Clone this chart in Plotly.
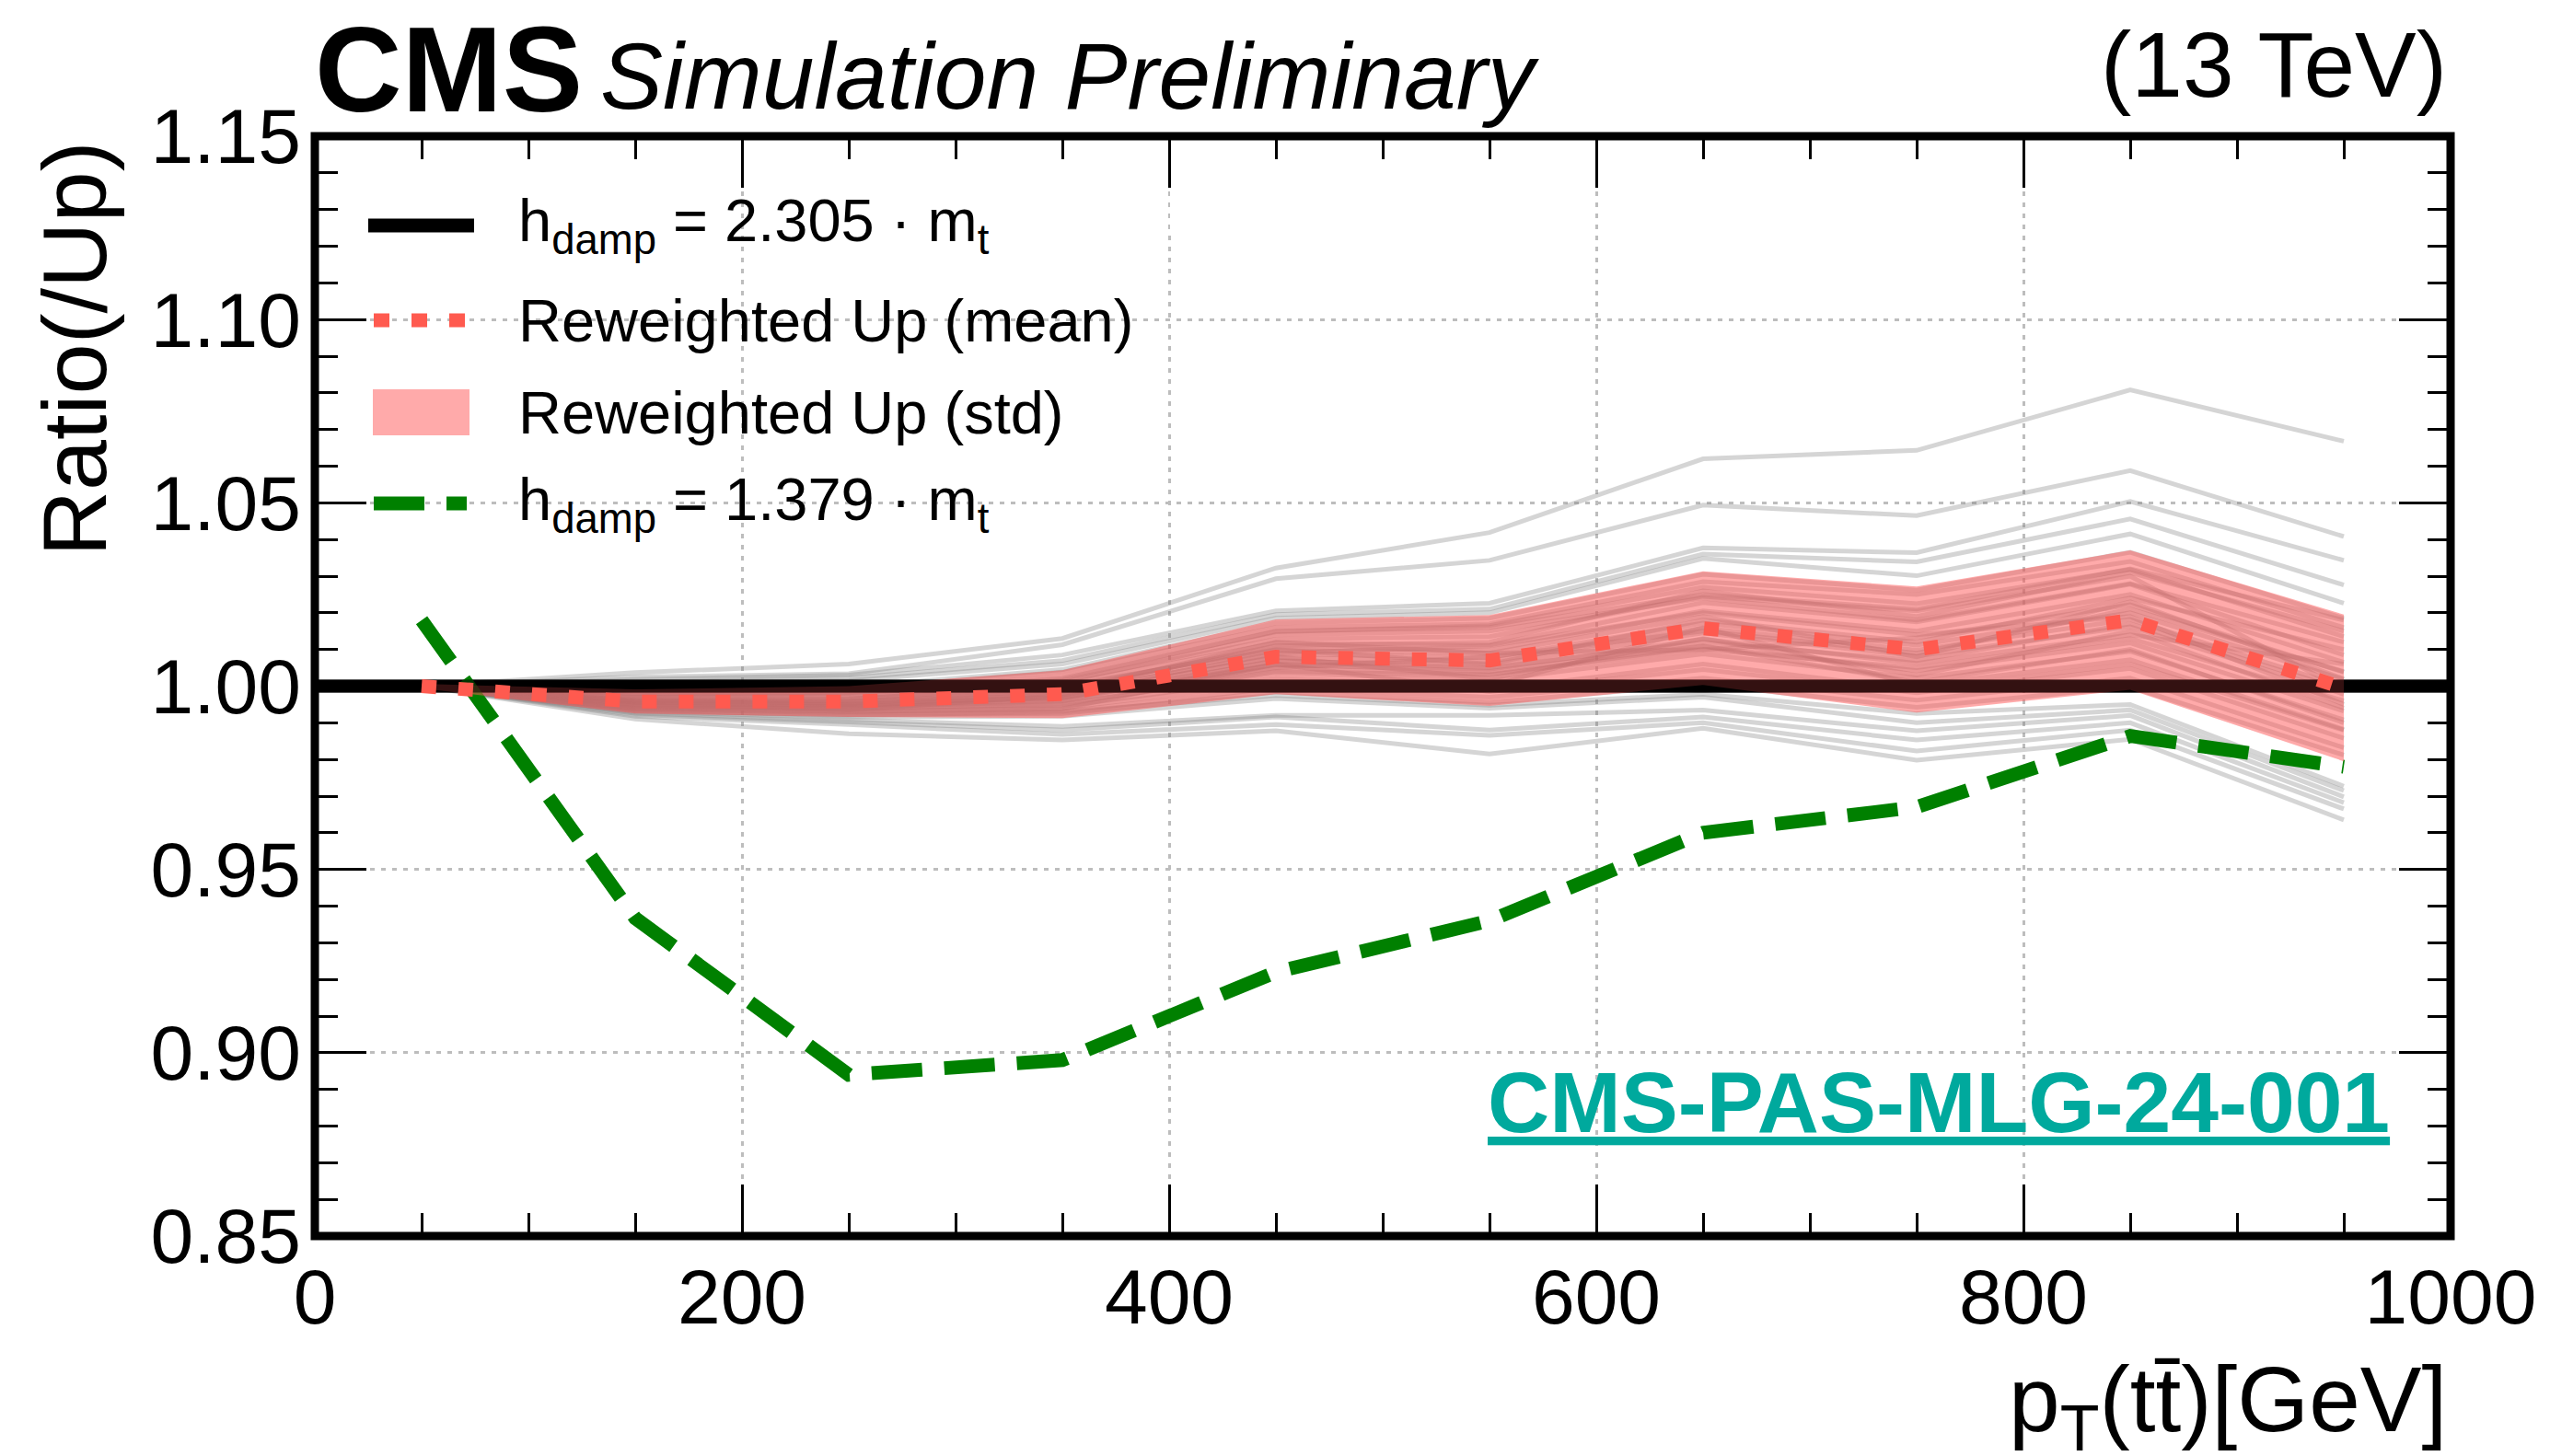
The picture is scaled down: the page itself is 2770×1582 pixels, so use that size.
import plotly.graph_objects as go

# ---------------- data ----------------
pt_bins = [50, 150, 250, 350, 450, 550, 650, 750, 850, 950]
nominal_x = [0, 1000]
nominal_ratio = [1.0, 1.0]
hdamp_down_ratio = [1.018, 0.9367, 0.894, 0.898, 0.922, 0.936, 0.960, 0.967, 0.9864, 0.978]
reweighted_mean = [1.000, 0.9958, 0.9958, 0.9978, 1.008, 1.007, 1.0158, 1.010, 1.018, 0.9995]
reweighted_std = [0.0006, 0.0033, 0.0042, 0.0065, 0.0102, 0.0124, 0.0155, 0.0172, 0.019, 0.020]

reweighted_toys = [
    [1.0000, 1.0037, 1.0060, 1.0130, 1.0322, 1.0419, 1.0620, 1.0643, 1.0808, 1.0668],
    [1.0000, 1.0025, 1.0034, 1.0113, 1.0293, 1.0343, 1.0494, 1.0465, 1.0588, 1.0408],
    [1.0000, 1.0018, 1.0030, 1.0085, 1.0205, 1.0226, 1.0377, 1.0364, 1.0504, 1.0343],
    [1.0000, 1.0012, 1.0022, 1.0070, 1.0195, 1.0210, 1.0360, 1.0339, 1.0456, 1.0276],
    [1.0000, 1.0008, 1.0015, 1.0060, 1.0185, 1.0200, 1.0348, 1.0301, 1.0415, 1.0226],
    [1.0003, 0.9990, 0.9998, 1.0045, 1.0172, 1.0185, 1.0305, 1.0262, 1.0365, 1.0185],
    [1.0002, 0.9984, 0.9992, 1.0038, 1.0160, 1.0170, 1.0285, 1.0250, 1.0340, 1.0160],
    [1.0002, 0.9978, 0.9985, 1.0025, 1.0148, 1.0165, 1.0270, 1.0225, 1.0318, 1.0135],
    [1.0001, 0.9973, 0.9979, 1.0015, 1.0128, 1.0135, 1.0245, 1.0205, 1.0300, 0.9990],
    [1.0001, 0.9969, 0.9973, 1.0005, 1.0118, 1.0112, 1.0228, 1.0175, 1.0278, 1.0085],
    [1.0000, 0.9965, 0.9966, 0.9996, 1.0105, 1.0098, 1.0205, 1.0150, 1.0250, 1.0065],
    [1.0000, 0.9962, 0.9962, 0.9988, 1.0098, 1.0090, 1.0100, 1.0132, 1.0222, 1.0038],
    [1.0000, 0.9959, 0.9959, 0.9982, 1.0088, 1.0078, 1.0172, 1.0112, 1.0200, 1.0018],
    [1.0000, 0.9957, 0.9955, 0.9976, 1.0078, 1.0068, 1.0158, 1.0098, 1.0182, 0.9998],
    [1.0000, 0.9955, 0.9951, 0.9970, 1.0068, 1.0058, 1.0145, 1.0082, 1.0162, 0.9978],
    [1.0000, 0.9952, 0.9947, 0.9964, 1.0058, 1.0046, 1.0128, 1.0062, 1.0140, 1.0060],
    [0.9999, 0.9950, 0.9943, 0.9958, 1.0048, 1.0032, 1.0108, 1.0042, 1.0118, 0.9932],
    [0.9999, 0.9947, 0.9939, 0.9952, 1.0036, 1.0016, 1.0088, 1.0022, 1.0095, 0.9908],
    [0.9999, 0.9944, 0.9935, 0.9945, 1.0022, 1.0000, 1.0160, 1.0002, 1.0072, 0.9882],
    [0.9998, 0.9940, 0.9931, 0.9938, 1.0060, 0.9985, 1.0045, 0.9982, 1.0048, 0.9858],
    [0.9998, 0.9936, 0.9927, 0.9931, 0.9995, 0.9970, 1.0022, 0.9962, 1.0022, 0.9832],
    [0.9998, 0.9932, 0.9922, 0.9925, 0.9984, 0.9956, 1.0005, 0.9942, 0.9998, 0.9812],
    [1.0000, 0.9935, 0.9920, 0.9930, 0.9975, 0.9948, 0.9978, 0.9925, 0.9950, 0.9727],
    [1.0000, 0.9930, 0.9915, 0.9918, 0.9966, 0.9940, 0.9970, 0.9900, 0.9935, 0.9715],
    [1.0000, 0.9926, 0.9908, 0.9890, 0.9920, 0.9920, 0.9935, 0.9878, 0.9920, 0.9698],
    [1.0000, 0.9922, 0.9902, 0.9880, 0.9916, 0.9880, 0.9916, 0.9853, 0.9900, 0.9682],
    [1.0000, 0.9918, 0.9895, 0.9868, 0.9895, 0.9866, 0.9900, 0.9823, 0.9880, 0.9665],
    [1.0000, 0.9910, 0.9870, 0.9853, 0.9878, 0.9815, 0.9885, 0.9798, 0.9855, 0.9635],
    [1.0001, 0.9980, 0.9990, 1.0010, 1.0140, 1.0150, 1.0240, 1.0180, 1.0280, 1.0120],
    [1.0000, 0.9970, 0.9975, 0.9990, 1.0110, 1.0120, 1.0260, 1.0190, 1.0310, 1.0150],
    [1.0000, 0.9960, 0.9965, 1.0000, 1.0100, 1.0060, 1.0180, 1.0120, 1.0240, 1.0100],
    [1.0000, 0.9955, 0.9960, 0.9980, 1.0090, 1.0110, 1.0200, 1.0140, 1.0190, 0.9950],
    [1.0000, 0.9950, 0.9950, 0.9970, 1.0050, 1.0080, 1.0150, 1.0090, 1.0210, 1.0040],
    [0.9999, 0.9945, 0.9945, 0.9960, 1.0070, 1.0050, 1.0120, 1.0070, 1.0170, 0.9990],
    [0.9999, 0.9940, 0.9940, 0.9950, 1.0040, 1.0030, 1.0100, 1.0050, 1.0130, 0.9960],
    [0.9999, 0.9948, 0.9935, 0.9975, 1.0080, 1.0020, 1.0130, 1.0030, 1.0150, 0.9940],
    [1.0000, 0.9962, 0.9952, 0.9985, 1.0120, 1.0090, 1.0190, 1.0080, 1.0230, 1.0020],
    [1.0000, 0.9958, 0.9948, 0.9968, 1.0060, 1.0040, 1.0110, 1.0010, 1.0100, 0.9900],
    [1.0001, 0.9975, 0.9982, 1.0020, 1.0150, 1.0160, 1.0250, 1.0210, 1.0320, 1.0180],
    [0.9998, 0.9938, 0.9930, 0.9940, 1.0010, 0.9990, 1.0060, 0.9990, 1.0060, 0.9880],
]

x_ticks = [0, 200, 400, 600, 800, 1000]
y_ticks = [0.85, 0.90, 0.95, 1.00, 1.05, 1.10, 1.15]

legend_labels = [
    "h<sub>damp</sub> = 2.305 · m<sub>t</sub>",
    "Reweighted Up (mean)",
    "Reweighted Up (std)",
    "h<sub>damp</sub> = 1.379 · m<sub>t</sub>",
]

# ---------------- layout geometry ----------------
W, H = 2770, 1582
L, R, T, B = 342, 108, 148, 239
PW = W - L - R
PH = H - T - B


def px(xp):
    return (xp - L) / PW


def py(yp):
    return (H - B - yp) / PH


FONT = "Liberation Sans, Arial, Helvetica, sans-serif"
RED = "#FF5A4F"
GREEN = "#008000"
BAND = "rgba(255,85,85,0.5)"
TOY = "rgba(128,128,128,0.33)"

fig = go.Figure()

for toy in reweighted_toys:
    fig.add_trace(go.Scatter(x=pt_bins, y=toy, mode="lines",
                             line=dict(color=TOY, width=5), showlegend=False, hoverinfo="skip"))

fig.add_trace(go.Scatter(x=nominal_x, y=nominal_ratio, mode="lines",
                         line=dict(color="black", width=14), showlegend=False))

fig.add_trace(go.Scatter(x=pt_bins, y=hdamp_down_ratio, mode="lines",
                         line=dict(color=GREEN, width=15, dash="55px,24px"), showlegend=False))

band_hi = [m + s for m, s in zip(reweighted_mean, reweighted_std)]
band_lo = [m - s for m, s in zip(reweighted_mean, reweighted_std)]
fig.add_trace(go.Scatter(x=pt_bins, y=band_hi, mode="lines", line=dict(width=0),
                         showlegend=False, hoverinfo="skip"))
fig.add_trace(go.Scatter(x=pt_bins, y=band_lo, mode="lines", line=dict(width=0),
                         fill="tonexty", fillcolor=BAND, showlegend=False))

fig.add_trace(go.Scatter(x=nominal_x, y=nominal_ratio, mode="lines",
                         line=dict(color="rgba(0,0,0,0.6)", width=14), showlegend=False,
                         hoverinfo="skip"))

fig.add_trace(go.Scatter(x=pt_bins, y=reweighted_mean, mode="lines",
                         line=dict(color=RED, width=15, dash="16px,24px"), showlegend=False))

axis_common = dict(
    ticks="inside", ticklen=56, tickwidth=3, tickcolor="black",
    showline=False, mirror="ticks", zeroline=False,
    showgrid=True, gridcolor="#BDBDBD", gridwidth=3, griddash="5px,7px",
    tickfont=dict(family=FONT, size=84, color="black"),
)

fig.update_layout(
    width=W, height=H,
    margin=dict(l=L, r=R, t=T, b=B, pad=0),
    paper_bgcolor="white", plot_bgcolor="white",
    showlegend=False,
    xaxis=dict(range=[0, 1000], tickvals=x_ticks, ticklabelstandoff=10,
               minor=dict(dtick=50, ticks="inside", ticklen=25, tickwidth=3, tickcolor="black",
                          showgrid=False),
               **axis_common),
    yaxis=dict(range=[0.85, 1.15], tickvals=y_ticks, tickformat=".2f", ticklabelstandoff=14,
               minor=dict(dtick=0.01, ticks="inside", ticklen=25, tickwidth=3, tickcolor="black",
                          showgrid=False),
               **axis_common),
)

shapes = [dict(type="rect", xref="paper", yref="paper", x0=0, x1=1, y0=0, y1=1,
               line=dict(color="black", width=9), layer="above")]

# manual legend handles
rows_y = [245, 348, 448, 547]
shapes.append(dict(type="line", xref="paper", yref="paper", x0=px(400), x1=px(515),
                   y0=py(rows_y[0]), y1=py(rows_y[0]), line=dict(color="black", width=15)))
shapes.append(dict(type="line", xref="paper", yref="paper", x0=px(406), x1=px(507),
                   y0=py(rows_y[1]), y1=py(rows_y[1]), line=dict(color=RED, width=15, dash="17px,24px")))
shapes.append(dict(type="rect", xref="paper", yref="paper", x0=px(405), x1=px(510),
                   y0=py(rows_y[2] + 25), y1=py(rows_y[2] - 25), line=dict(width=0), fillcolor=BAND))
shapes.append(dict(type="line", xref="paper", yref="paper", x0=px(406), x1=px(507),
                   y0=py(rows_y[3]), y1=py(rows_y[3]), line=dict(color=GREEN, width=15, dash="55px,24px")))

annotations = []
for lab, yy in zip(legend_labels, rows_y):
    annotations.append(dict(text=lab, xref="paper", yref="paper", x=px(561), y=py(yy),
                            xanchor="left", yanchor="middle", showarrow=False,
                            font=dict(family=FONT, size=65, color="black")))

annotations += [
    dict(text="<b>CMS</b>", xref="paper", yref="paper", x=px(340), y=py(75),
         xanchor="left", yanchor="middle", showarrow=False,
         font=dict(family=FONT, size=131, color="black")),
    dict(text="<i>Simulation Preliminary</i>", xref="paper", yref="paper", x=px(650), y=py(83),
         xanchor="left", yanchor="middle", showarrow=False,
         font=dict(family=FONT, size=102, color="black")),
    dict(text="(13 TeV)", xref="paper", yref="paper", x=px(2660), y=py(70),
         xanchor="right", yanchor="middle", showarrow=False,
         font=dict(family=FONT, size=100, color="black")),
    dict(text="Ratio(/Up)", xref="paper", yref="paper", x=px(80), y=py(152),
         xanchor="center", yanchor="top", textangle=-90, showarrow=False,
         font=dict(family=FONT, size=99, color="black")),
    dict(text="p<sub>T</sub>(tt\u0304)[GeV]", xref="paper", yref="paper", x=px(2660), y=py(1527),
         xanchor="right", yanchor="middle", showarrow=False,
         font=dict(family=FONT, size=100, color="black")),
    dict(text="<b><u>CMS-PAS-MLG-24-001</u></b>", xref="paper", yref="paper", x=px(2598), y=py(1198),
         xanchor="right", yanchor="middle", showarrow=False,
         font=dict(family=FONT, size=93, color="#00A99D")),
]

fig.update_layout(shapes=shapes, annotations=annotations)
fig.write_html("out.html")
